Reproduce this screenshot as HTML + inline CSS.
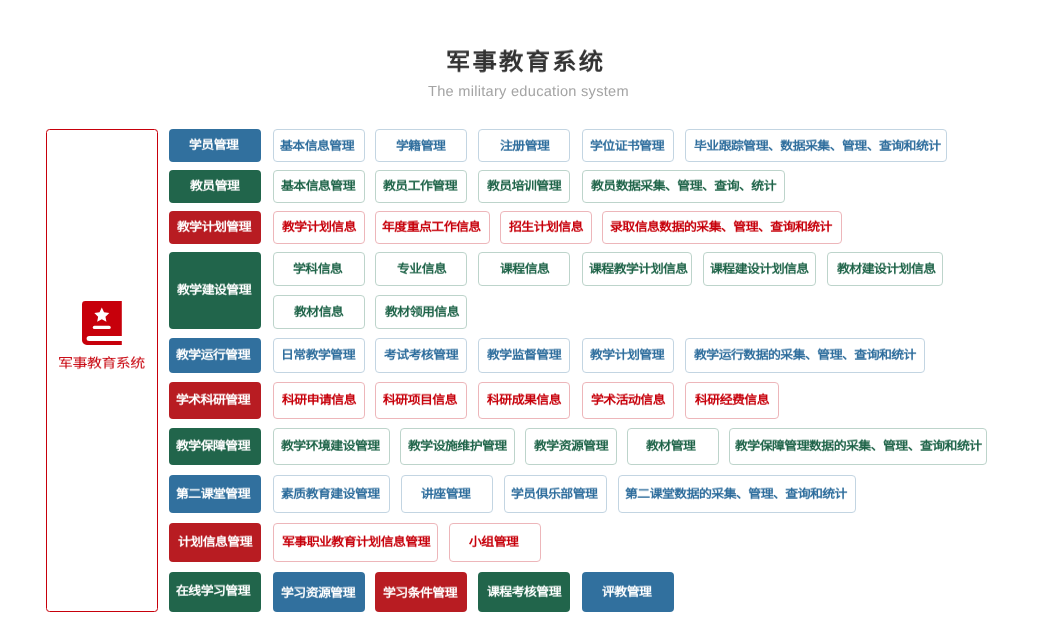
<!DOCTYPE html>
<html lang="zh-CN">
<head>
<meta charset="utf-8">
<title>军事教育系统</title>
<style>
html,body{margin:0;padding:0;background:#fff;}
body{width:1051px;height:636px;position:relative;overflow:hidden;font-family:"Liberation Sans",sans-serif;-webkit-font-smoothing:antialiased;text-rendering:geometricPrecision;}
h1{position:absolute;left:446.3px;top:46.8px;will-change:transform;margin:0;white-space:nowrap;font-size:24.3px;line-height:32px;font-weight:bold;color:#333;letter-spacing:2.25px;transform:scaleY(.97);}
.sub{will-change:transform;position:absolute;left:428px;top:81.7px;margin:0;white-space:nowrap;font-size:14.6px;line-height:20px;color:#a4a4a4;font-weight:normal;letter-spacing:.27px;}
.panel{position:absolute;left:46px;top:129px;width:110px;height:481px;border:1px solid #c7000b;border-radius:3.5px;background:#fff;}
.panel svg{position:absolute;left:35px;top:171px;}
.panel p{will-change:transform;font-weight:500;position:absolute;left:11px;top:224.3px;margin:0;font-size:15px;letter-spacing:-.54px;line-height:20px;color:#c7000b;white-space:nowrap;transform:scale(1,.88);transform-origin:0 50%;}
.c,.i{position:absolute;box-sizing:border-box;border-radius:4px;display:flex;align-items:center;justify-content:center;white-space:nowrap;font-size:12.9px;font-weight:bold;line-height:1;}
.c span,.i span{position:relative;display:block;letter-spacing:-.56px;margin-left:-.56px;transform:scale(1,.93);will-change:transform;}
.c{color:#fff;}
.i{background:#fff;border:1px solid;}
.fb{background:#31709e;}
.fg{background:#21654b;}
.fr{background:#b81c22;}
.ob{border-color:#c3d5e2;color:#2f6e9d;}
.og{border-color:#bdd4cb;color:#1f6449;}
.or{border-color:#edb6ba;color:#c7000b;}
</style>
</head>
<body>
<h1>军事教育系统</h1>
<p class="sub">The military education system</p>
<div class="panel">
<svg width="40" height="44" viewBox="0 0 40 44">
<path fill="#c7000b" d="M3.4 0H39.8V34.9H7.1a2.500 2.500 0 0 0 0 5H39.8V44H4.800A4.800 4.800 0 0 1 0 39.200V3.400A3.400 3.400 0 0 1 3.400 0Z"/>
<polygon fill="#fff" points="19.80,6.55 22.06,11.34 27.31,12.01 23.46,15.64 24.44,20.84 19.80,18.30 15.16,20.84 16.14,15.64 12.29,12.01 17.54,11.34"/>
<rect fill="#fff" x="10.800" y="24.800" width="17.900" height="3.200" rx="1.600"/>
</svg>
<p>军事教育系统</p>
</div>
<div class="c fb" style="left:169px;top:129px;width:92px;height:33px"><span style="left:-1.2px;top:-0.1px">学员管理</span></div>
<div class="i ob" style="left:273px;top:129px;width:92px;height:33px"><span style="left:-1.9px;top:0.9px">基本信息管理</span></div>
<div class="i ob" style="left:375.2px;top:129px;width:91.8px;height:33px"><span style="top:0.9px">学籍管理</span></div>
<div class="i ob" style="left:478px;top:129px;width:92px;height:33px"><span style="left:1.1px;top:0.9px">注册管理</span></div>
<div class="i ob" style="left:582px;top:129px;width:92px;height:33px"><span style="left:-1px;top:0.9px">学位证书管理</span></div>
<div class="i ob" style="left:684.8px;top:129px;width:261.9px;height:33px"><span style="left:1.5px;top:0.9px">毕业跟踪管理、数据采集、管理、查询和统计</span></div>
<div class="c fg" style="left:169px;top:170px;width:92px;height:33px"><span style="top:-0.15px">教员管理</span></div>
<div class="i og" style="left:273px;top:170px;width:92px;height:33px"><span style="left:-1px">基本信息管理</span></div>
<div class="i og" style="left:375.2px;top:170px;width:91.8px;height:33px"><span style="left:-1.3px">教员工作管理</span></div>
<div class="i og" style="left:478px;top:170px;width:92px;height:33px"><span style="left:0.7px">教员培训管理</span></div>
<div class="i og" style="left:582px;top:170px;width:203.1px;height:33px"><span style="left:0.2px">教员数据采集、管理、查询、统计</span></div>
<div class="c fr" style="left:169px;top:211px;width:92px;height:33px"><span style="left:-1.2px;top:-0.1px">教学计划管理</span></div>
<div class="i or" style="left:273px;top:211px;width:92px;height:33px"><span style="top:-0.1px">教学计划信息</span></div>
<div class="i or" style="left:375.2px;top:211px;width:114.6px;height:33px"><span style="left:-0.6px;top:-0.1px">年度重点工作信息</span></div>
<div class="i or" style="left:500.1px;top:211px;width:91.9px;height:33px"><span style="top:-0.1px">招生计划信息</span></div>
<div class="i or" style="left:602.2px;top:211px;width:239.5px;height:33px"><span style="left:-0.9px;top:-0.1px">录取信息数据的采集、管理、查询和统计</span></div>
<div class="c fb" style="left:169px;top:338px;width:92px;height:34.7px"><span style="left:-1.4px;top:-0.25px">教学运行管理</span></div>
<div class="i ob" style="left:273px;top:338px;width:92px;height:34.7px"><span style="left:-0.7px;top:-0.05px">日常教学管理</span></div>
<div class="i ob" style="left:375.2px;top:338px;width:91.8px;height:34.7px"><span style="left:-0.2px;top:-0.05px">考试考核管理</span></div>
<div class="i ob" style="left:478px;top:338px;width:92px;height:34.7px"><span style="top:-0.05px">教学监督管理</span></div>
<div class="i ob" style="left:582px;top:338px;width:92px;height:34.7px"><span style="left:-1px;top:-0.05px">教学计划管理</span></div>
<div class="i ob" style="left:684.8px;top:338px;width:240.2px;height:34.7px"><span style="left:0.4px;top:-0.05px">教学运行数据的采集、管理、查询和统计</span></div>
<div class="c fr" style="left:169px;top:382px;width:92px;height:36.7px"><span style="left:-1.4px;top:-0.25px">学术科研管理</span></div>
<div class="i or" style="left:273px;top:382px;width:92px;height:36.7px"><span style="top:0.35px">科研申请信息</span></div>
<div class="i or" style="left:375.2px;top:382px;width:91.8px;height:36.7px"><span style="left:-1px;top:0.35px">科研项目信息</span></div>
<div class="i or" style="left:478px;top:382px;width:92px;height:36.7px"><span style="top:0.35px">科研成果信息</span></div>
<div class="i or" style="left:582px;top:382px;width:92px;height:36.7px"><span style="top:0.35px">学术活动信息</span></div>
<div class="i or" style="left:685.2px;top:382px;width:93.6px;height:36.7px"><span style="top:0.35px">科研经费信息</span></div>
<div class="c fg" style="left:169px;top:428px;width:92px;height:36.7px"><span style="left:-1.4px;top:-0.1px">教学保障管理</span></div>
<div class="i og" style="left:273px;top:428px;width:116.8px;height:36.7px"><span style="left:-0.5px;top:0.2px">教学环境建设管理</span></div>
<div class="i og" style="left:400.1px;top:428px;width:114.6px;height:36.7px"><span style="top:0.2px">教学设施维护管理</span></div>
<div class="i og" style="left:525.3px;top:428px;width:91.5px;height:36.7px"><span style="top:0.2px">教学资源管理</span></div>
<div class="i og" style="left:627px;top:428px;width:92.1px;height:36.7px"><span style="left:-1.9px;top:0.2px">教材管理</span></div>
<div class="i og" style="left:729.4px;top:428px;width:257.3px;height:36.7px"><span style="left:0.75px;top:0.2px">教学保障管理数据的采集、管理、查询和统计</span></div>
<div class="c fb" style="left:169px;top:475px;width:92px;height:37.6px"><span style="left:-1.4px;top:0.9px">第二课堂管理</span></div>
<div class="i ob" style="left:273px;top:475px;width:116.8px;height:37.6px"><span style="left:-0.4px;top:1.1px">素质教育建设管理</span></div>
<div class="i ob" style="left:401.3px;top:475px;width:91.3px;height:37.6px"><span style="left:-1px;top:1.1px">讲座管理</span></div>
<div class="i ob" style="left:504px;top:475px;width:103px;height:37.6px"><span style="left:-1px;top:1.1px">学员俱乐部管理</span></div>
<div class="i ob" style="left:618px;top:475px;width:238px;height:37.6px"><span style="left:-0.7px;top:0.2px">第二课堂数据的采集、管理、查询和统计</span></div>
<div class="c fr" style="left:169px;top:523px;width:92px;height:38.8px"><span style="left:0.2px;top:0.4px">计划信息管理</span></div>
<div class="i or" style="left:273px;top:523px;width:165px;height:38.8px"><span style="left:0.3px;top:0.55px">军事职业教育计划信息管理</span></div>
<div class="i or" style="left:449.1px;top:523px;width:91.7px;height:38.8px"><span style="left:-1px;top:0.55px">小组管理</span></div>
<div class="c fg" style="left:169px;top:252px;width:92px;height:76.8px"><span style="left:-1.2px;top:0.1px">教学建设管理</span></div>
<div class="i og" style="left:273px;top:252px;width:92px;height:33.7px"><span style="left:-0.8px;top:0.55px">学科信息</span></div>
<div class="i og" style="left:375.2px;top:252px;width:91.8px;height:33.7px"><span style="left:0.8px;top:0.55px">专业信息</span></div>
<div class="i og" style="left:478px;top:252px;width:92px;height:33.7px"><span style="left:0.8px;top:0.55px">课程信息</span></div>
<div class="i og" style="left:582.1px;top:252px;width:109.6px;height:33.7px"><span style="left:1.5px;top:0.55px">课程教学计划信息</span></div>
<div class="i og" style="left:703.1px;top:252px;width:112.7px;height:33.7px"><span style="top:0.55px">课程建设计划信息</span></div>
<div class="i og" style="left:827.2px;top:252px;width:115.7px;height:33.7px"><span style="left:1.1px;top:0.55px">教材建设计划信息</span></div>
<div class="i og" style="left:273px;top:295.2px;width:92px;height:33.6px"><span style="left:0.2px;top:0.5px">教材信息</span></div>
<div class="i og" style="left:375.2px;top:295.2px;width:91.8px;height:33.6px"><span style="left:1px;top:0.5px">教材领用信息</span></div>
<div class="c fg" style="left:169px;top:572px;width:92px;height:39.8px"><span style="left:-1.6px;top:-0.65px">在线学习管理</span></div>
<div class="c fb" style="left:273px;top:572px;width:92px;height:39.8px"><span style="left:-1.2px;top:1.85px">学习资源管理</span></div>
<div class="c fr" style="left:375.2px;top:572px;width:91.8px;height:39.8px"><span style="left:-0.8px;top:1.85px">学习条件管理</span></div>
<div class="c fg" style="left:478px;top:572px;width:92px;height:39.8px"><span style="top:0.15px">课程考核管理</span></div>
<div class="c fb" style="left:582px;top:572px;width:92px;height:39.8px"><span style="left:-1px;top:0.15px">评教管理</span></div>
</body>
</html>
